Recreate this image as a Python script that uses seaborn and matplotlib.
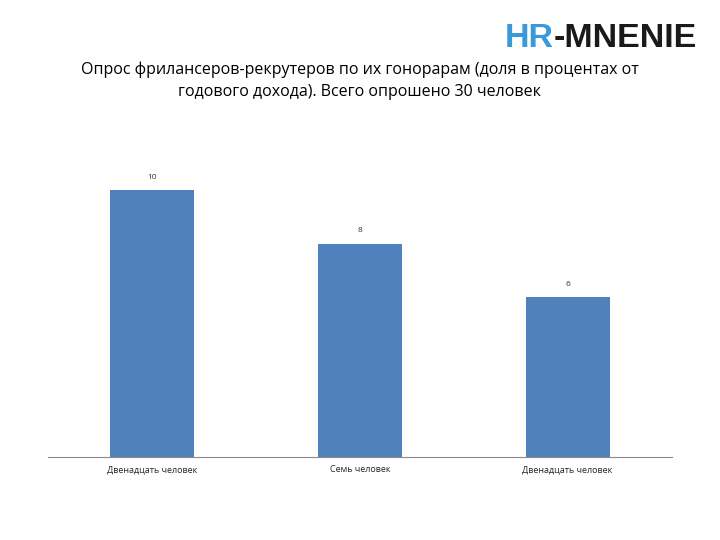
import matplotlib
matplotlib.use('Agg')
import matplotlib.pyplot as plt
import seaborn as sns
import pandas as pd

categories = ['Двенадцать человек', 'Семь человек', 'Двенадцать человек ']
values = [10, 8, 6]

sns.set_style('white')
plt.rcParams['font.family'] = ['Open Sans', 'DejaVu Sans']

fig = plt.figure(figsize=(7.2, 5.4), dpi=100)
ax = fig.add_axes([48 / 720, 83 / 540, 624 / 720, 320 / 540])

df = pd.DataFrame({'cat': categories, 'val': values})
sns.barplot(data=df, x='cat', y='val', color='#4f81bd', width=0.4, saturation=1,
            linewidth=0, ax=ax)
ax.set_ylim(0, 12)
ax.set_xlim(-0.5, 2.5)
for i, v in enumerate(values):
    ax.text(i, v + 0.35, str(v), ha='center', va='bottom', fontsize=6, color='#333333')

ax.set_xlabel('')
ax.set_ylabel('')
ax.set_yticks([])
ax.tick_params(axis='x', length=0, labelsize=6.5, pad=6)
for s in ['top', 'right', 'left']:
    ax.spines[s].set_visible(False)
ax.spines['bottom'].set_color('#888888')

fig.text(0.5, 1 - 70 / 540, 'Опрос фрилансеров-рекрутеров по их гонорарам (доля в процентах от',
         ha='center', va='center', fontsize=11.5, color='black')
fig.text(0.5, 1 - 92 / 540, 'годового дохода). Всего опрошено 30 человек',
         ha='center', va='center', fontsize=11.5, color='black')

# logo
logo = fig.text(505 / 720, 1 - 47 / 540, 'HR', ha='left', va='baseline', fontsize=24.5,
                fontweight='bold', color='#3a9ad9', family='Liberation Sans')
fig.canvas.draw()
ext = logo.get_window_extent()
fig.text(ext.x1 / 720, 1 - 47 / 540, '-MNENIE', ha='left', va='baseline', fontsize=24.5,
         fontweight='bold', color='#1a1a1a', family='Liberation Sans')

fig.savefig('out.png', dpi=100, facecolor='white')
